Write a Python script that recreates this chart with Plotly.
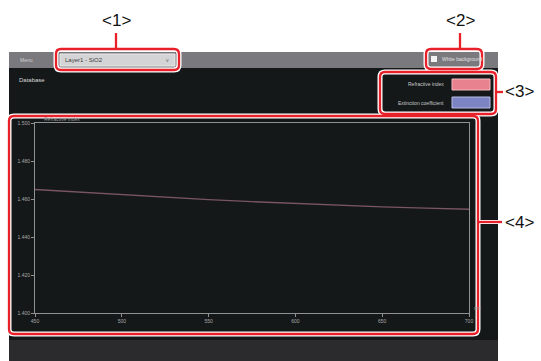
import plotly.graph_objects as go

# ---- data ----
wavelength = [450, 475, 500, 525, 550, 575, 600, 625, 650, 675, 700]
refractive_index = [1.4650, 1.4636, 1.4623, 1.4609, 1.4597, 1.4586, 1.4576, 1.4567, 1.4559, 1.4552, 1.4546]
x_ticks = [450, 500, 550, 600, 650, 700]
y_ticks = [1.400, 1.420, 1.440, 1.460, 1.480, 1.500]
callout_labels = ["<1>", "<2>", "<3>", "<4>"]
legend_items = ["Refractive index", "Extinction coefficient"]
legend_colors = ["#e8828e", "#7c84c4"]
layer_name = "Layer1 - SiO2"

# ---- page geometry (pixels) ----
FW, FH = 541, 361
L, R, T, B = 35, 469, 123, 313
PW, PH = R - L, B - T


def P(px, py):
    return (px - L) / PW, (B - py) / PH


def rect(x0, y0, x1, y1, fill=None, line=None, lw=0, layer="below"):
    a = P(x0, y1)
    b = P(x1, y0)
    d = dict(type="rect", xref="paper", yref="paper", x0=a[0], y0=a[1], x1=b[0], y1=b[1],
             layer=layer, line=dict(width=lw, color=line if line else "rgba(0,0,0,0)"))
    d["fillcolor"] = fill if fill else "rgba(0,0,0,0)"
    return d


def rrect_path(x0, y0, x1, y1, r):
    def f(px, py):
        x, y = P(px, py)
        return f"{x:.5f},{y:.5f}"
    s = f"M{f(x0 + r, y0)} L{f(x1 - r, y0)} Q{f(x1, y0)} {f(x1, y0 + r)} L{f(x1, y1 - r)} "
    s += f"Q{f(x1, y1)} {f(x1 - r, y1)} L{f(x0 + r, y1)} Q{f(x0, y1)} {f(x0, y1 - r)} "
    s += f"L{f(x0, y0 + r)} Q{f(x0, y0)} {f(x0 + r, y0)} Z"
    return s


def line_path(points):
    s = ""
    for i, (px, py) in enumerate(points):
        x, y = P(px, py)
        s += ("M" if i == 0 else " L") + f"{x:.5f},{y:.5f}"
    return s


shapes = []
annotations = []

# screenshot background
shapes.append(rect(9, 52, 498, 361, fill="#141819"))
shapes.append(rect(9, 52, 498, 68, fill="#7a7a7e"))
shapes.append(rect(9, 340, 498, 361, fill="#2b2b2d"))
# dropdown
shapes.append(rect(60, 54, 175, 66, fill="#d4d4d6", line="#ececec", lw=1))
# checkbox
shapes.append(rect(431, 56, 437, 62, fill="#f2f2f2"))
# legend swatches
shapes.append(rect(452, 79, 490, 90, fill=legend_colors[0], line="#f4b8c0", lw=1))
shapes.append(rect(452, 97, 490, 108, fill=legend_colors[1], line="#b8bce6", lw=1))


def txt(px, py, text, size=6, color="#c8c8c8", xanchor="left", yanchor="middle", family="Liberation Sans"):
    x, y = P(px, py)
    annotations.append(dict(x=x, y=y, xref="paper", yref="paper", text=text, showarrow=False,
                            xanchor=xanchor, yanchor=yanchor,
                            font=dict(size=size, color=color, family=family)))


txt(18, 60, "Menu", size=5, color="#d0d0d0")
txt(63, 60, layer_name, size=6, color="#404040")
txt(171, 60, "v", size=5, color="#606060", xanchor="right")
txt(440, 59, "White background", size=5, color="#e0e0e0")
txt(17, 80, "Database", size=6, color="#d8d8d8")
txt(446, 84, legend_items[0], size=5, color="#c8c8c8", xanchor="right")
txt(446, 103, legend_items[1], size=5, color="#c8c8c8", xanchor="right")
txt(42, 119, "Refractive index", size=5, color="#9a9a9a")
txt(472, 308, "nm", size=5, color="#9a9a9a")

# red callout boxes with white halo
boxes = [(56, 49, 179, 70), (426, 49, 482, 69), (380, 72, 496, 114), (9, 116, 478, 334)]
connectors = [[(116, 33), (116, 49)], [(460, 33), (460, 49)], [(496, 92), (503, 92)], [(478, 222), (502, 222)]]
for (x0, y0, x1, y1) in boxes:
    p = rrect_path(x0, y0, x1, y1, 5)
    shapes.append(dict(type="path", xref="paper", yref="paper", path=p, layer="above",
                       line=dict(color="white", width=5)))
for pts in connectors:
    shapes.append(dict(type="path", xref="paper", yref="paper", path=line_path(pts), layer="above",
                       line=dict(color="white", width=4)))
for (x0, y0, x1, y1) in boxes:
    p = rrect_path(x0, y0, x1, y1, 5)
    shapes.append(dict(type="path", xref="paper", yref="paper", path=p, layer="above",
                       line=dict(color="#e8202a", width=2.3)))
for pts in connectors:
    shapes.append(dict(type="path", xref="paper", yref="paper", path=line_path(pts), layer="above",
                       line=dict(color="#e8202a", width=2.3)))

label_pos = [(116, 20, "center"), (460, 20, "center"), (503, 92, "left"), (503, 222, "left")]
for lab, (px, py, xa) in zip(callout_labels, label_pos):
    txt(px, py, lab, size=17, color="#111111", xanchor=xa, family="Liberation Sans")

fig = go.Figure()
fig.add_trace(go.Scatter(x=wavelength, y=refractive_index, mode="lines",
                         line=dict(color="#7a5562", width=1.3), showlegend=False, hoverinfo="skip"))

axis_common = dict(showgrid=False, zeroline=False, showline=True, mirror=True,
                   linecolor="#8e9293", linewidth=1, ticks="outside", ticklen=3,
                   tickcolor="#8e9293", tickfont=dict(size=5, color="#a8a8a8", family="Liberation Sans"))
fig.update_xaxes(range=[450, 700], tickvals=x_ticks, ticktext=[str(v) for v in x_ticks], **axis_common)
fig.update_yaxes(range=[1.4, 1.5], tickvals=y_ticks, ticktext=[f"{v:.3f}" for v in y_ticks], **axis_common)

fig.update_layout(width=FW, height=FH, margin=dict(l=L, r=FW - R, t=T, b=FH - B),
                  paper_bgcolor="white", plot_bgcolor="#141819",
                  shapes=shapes, annotations=annotations, showlegend=False)

fig.write_html("out.html", config={"displayModeBar": False},
               post_script="document.body.style.margin='0';document.body.style.overflow='hidden';")
